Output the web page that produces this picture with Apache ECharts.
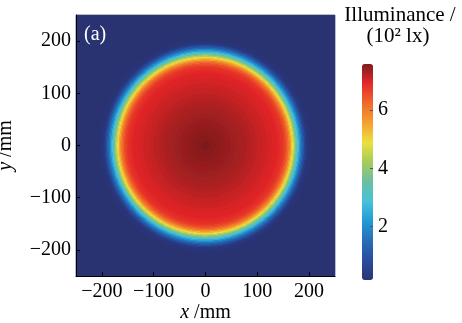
<!DOCTYPE html>
<html>
	<head>
		<meta charset="utf-8">
		<title>Illuminance</title>
		<script src="https://cdn.jsdelivr.net/npm/echarts@6/dist/echarts.min.js"></script>
		<style>
			html, body { margin: 0; padding: 0; background: #fff; }
		</style>
	</head>
	<body>
		<div id="box" style="width: 462px;height: 323px;"></div>
		<script>
			// radial profile (mm -> 10^2 lx), step lookup
			var radiusMm = [0, 8, 20, 30, 40, 50, 60, 70, 80, 90, 100, 110, 120, 130, 140, 145, 150, 152.5, 155, 157.5, 160, 162.5, 165, 167.5, 170, 172.5, 175, 177.5, 180, 182.5, 185, 187.5, 190, 192.5, 195, 200, 205]
			var illum = [7.58, 7.50, 7.47, 7.44, 7.40, 7.36, 7.32, 7.28, 7.23, 7.17, 7.11, 7.05, 6.99, 6.94, 6.88, 6.82, 6.72, 6.62, 6.48, 6.28, 6.02, 5.70, 5.30, 4.90, 4.40, 3.90, 3.40, 2.90, 2.40, 1.95, 1.55, 1.20, 0.85, 0.55, 0.35, 0.22, 0.17]
			var xTicks = [-200, -100, 0, 100, 200]
			var yTicks = [-200, -100, 0, 100, 200]
			var barTicks = [2, 4, 6]
			var jetColors = ['#2c3473', '#2a4c9e', '#276eb8', '#229ad6', '#48c2d8', '#6cbea6', '#a4cc58', '#ece040', '#f5a030', '#ef6a2c', '#e4282a', '#7e1c1c']

			// one cell per screen pixel so the rects butt together without seams
			function cells(n) {
				var out = []
				var step = 500 / n
				for (var i = 0; i < n; i++) out.push(-250 + step / 2 + step * i)
				return out
			}
			var xCats = cells(259)
			var yCats = cells(261)
			var grid = []
			for (var i = 0; i < xCats.length; i++) {
				for (var j = 0; j < yCats.length; j++) {
					var r = Math.sqrt(xCats[i] * xCats[i] + yCats[j] * yCats[j])
					var k = 0
					while (k + 1 < radiusMm.length && radiusMm[k + 1] <= r) k++
					grid.push([i, j, illum[k]])
				}
			}

			function fmt(v) {
				return v < 0 ? '\u2212' + (-v) : '' + v
			}

			var serif = 'Liberation Serif'
			var mCharts = echarts.init(document.querySelector('#box'))
			var option = {
				animation: false,
				textStyle: { fontFamily: serif },
				grid: [
					{ left: 76, top: 15, width: 259, height: 261, outerBoundsMode: 'none', containLabel: false },
					{ left: 362, top: 64, width: 11, height: 216, outerBoundsMode: 'none', containLabel: false }
				],
				xAxis: [
					{
						type: 'value', gridIndex: 0, min: -250, max: 250, z: 5,
						name: '{i|x} /mm', nameLocation: 'middle', nameGap: 27, nameMoveOverlap: false,
						nameTextStyle: { fontSize: 20, color: '#000', rich: { i: { fontStyle: 'italic', fontSize: 20, fontFamily: serif } } },
						splitLine: { show: false },
						axisLine: { onZero: false, lineStyle: { color: '#000', width: 1 } },
						axisTick: { inside: true, length: 4, customValues: xTicks, lineStyle: { color: '#000' } },
						axisLabel: { customValues: xTicks, formatter: fmt, fontSize: 20, color: '#000', margin: 6 }
					},
					{ type: 'category', gridIndex: 0, position: 'top', data: xCats, show: false },
					{ type: 'value', gridIndex: 1, show: false, min: 0, max: 1 }
				],
				yAxis: [
					{
						type: 'value', gridIndex: 0, min: -250, max: 250, z: 5,
						name: '{i|y} /mm', nameLocation: 'middle', nameGap: 60, nameRotate: 90, nameMoveOverlap: false,
						nameTextStyle: { fontSize: 20, color: '#000', rich: { i: { fontStyle: 'italic', fontSize: 20, fontFamily: serif } } },
						splitLine: { show: false },
						axisLine: { show: true, onZero: false, lineStyle: { color: '#000', width: 1 } },
						axisTick: { show: true, inside: true, length: 4, customValues: yTicks, lineStyle: { color: '#000' } },
						axisLabel: { customValues: yTicks, formatter: fmt, fontSize: 20, color: '#000', margin: 5 }
					},
					{ type: 'category', gridIndex: 0, position: 'right', data: yCats, show: false },
					{
						type: 'value', gridIndex: 1, position: 'right', min: 0.17, max: 7.58, z: 5,
						splitLine: { show: false },
						axisLine: { show: false, onZero: false },
						axisTick: { show: true, inside: true, length: 3, customValues: barTicks, lineStyle: { color: '#555' } },
						axisLabel: { customValues: barTicks, fontSize: 20, color: '#000', margin: 5 }
					}
				],
				visualMap: {
					type: 'continuous', seriesIndex: 0, min: 0.17, max: 7.58,
					left: 362, top: 64, itemWidth: 11, itemHeight: 216, padding: 0,
					calculable: false, hoverLink: false,
					inRange: { color: jetColors }
				},
				graphic: [
					{ type: 'text', left: 84, top: 25, z: 10, style: { text: '(a)', fill: '#fff', font: '20px ' + serif } },
					{ type: 'text', x: 400, y: 5, style: { text: 'Illuminance /', fill: '#000', font: '21px ' + serif, textAlign: 'center' } },
					{ type: 'text', x: 398, y: 26, style: { text: '(10\u00b2 lx)', fill: '#000', font: '21px ' + serif, textAlign: 'center' } }
				],
				series: [
					{
						type: 'heatmap', xAxisIndex: 1, yAxisIndex: 1,
						data: grid, progressive: 0,
						itemStyle: { borderWidth: 0 },
						emphasis: { disabled: true }
					}
				]
			}
			mCharts.setOption(option)
		</script>
	</body>
</html>
